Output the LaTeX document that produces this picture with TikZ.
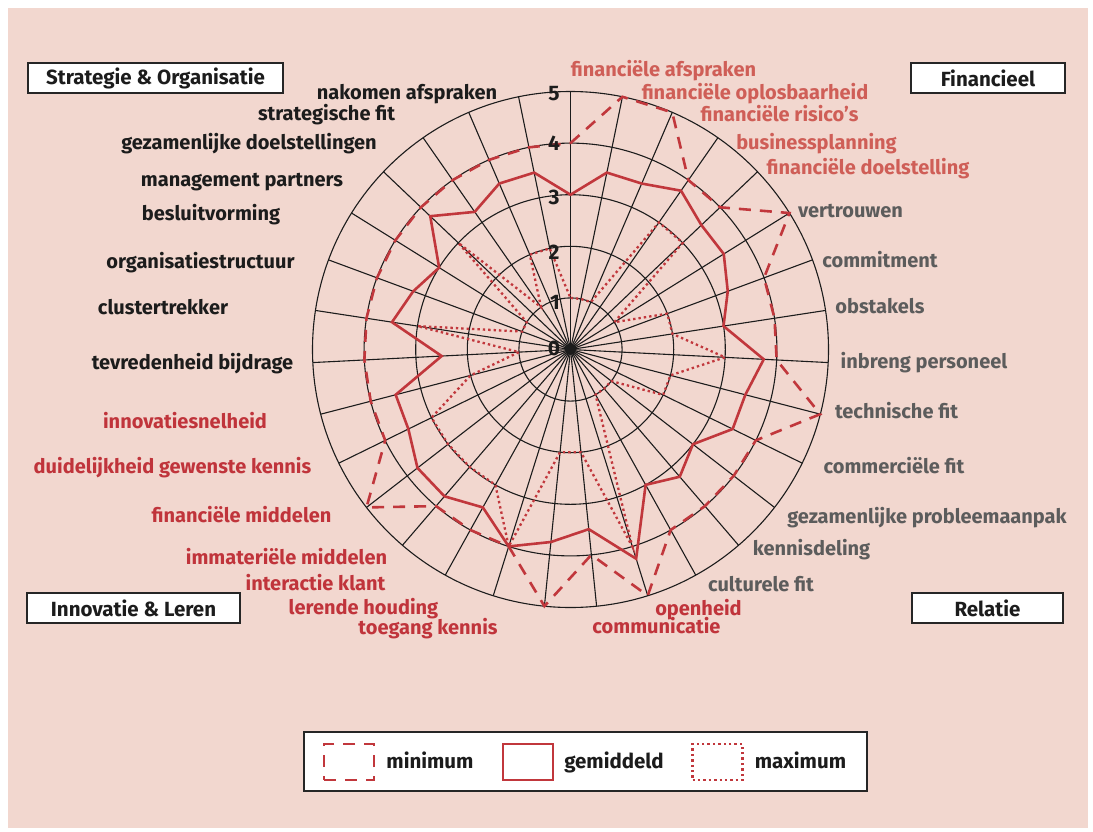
\documentclass[tikz,border=0pt]{standalone}
\usepackage{fontspec}
\setmainfont{Fira Sans}
\definecolor{bgpink}{HTML}{F2D7CF}
\definecolor{serred}{HTML}{C1373C}
\definecolor{lblred}{HTML}{C0343B}
\definecolor{lblcoral}{HTML}{CF5E57}
\definecolor{lblgray}{HTML}{5C5C5C}
\definecolor{lblblack}{HTML}{1C1C1C}
\begin{document}
\begin{tikzpicture}[x=1pt,y=-1pt,
  lbl/.style={font=\bfseries\fontsize{20}{22}\selectfont, anchor=mid, inner sep=0pt, yshift=-4.5pt},
  blk/.style={lbl, text=lblblack},
  rdl/.style={lbl, text=lblred},
  crl/.style={lbl, text=lblcoral},
  gry/.style={lbl, text=lblgray},
  numl/.style={font=\bfseries\fontsize{21}{23}\selectfont, text=lblblack, anchor=mid, inner sep=0pt, yshift=-4.5pt},
  gridline/.style={line width=1.1pt, draw=lblblack},
  sermin/.style={draw=serred, line width=2.6pt, dash pattern=on 12pt off 9pt},
  seravg/.style={draw=serred, line width=2.6pt, line join=miter},
  sermax/.style={draw=serred, line width=2.3pt, dash pattern=on 2.4pt off 3pt},
  titlebox/.style={draw=black!85, line width=1.4pt, fill=white, inner sep=0pt,
    minimum height=30pt, font=\bfseries\fontsize{20.5}{22}\selectfont, text=lblblack},
  legsq/.style={minimum width=50pt, minimum height=36pt, inner sep=0pt},
  legt/.style={font=\bfseries\fontsize{20.5}{22}\selectfont, text=lblblack, anchor=mid, inner sep=0pt, yshift=-4.5pt}
]
\useasboundingbox (0,0) rectangle (1093,831);
\fill[white] (0,0) rectangle (1093,831);
\fill[bgpink] (8,8) rectangle (1088,828);

\begin{scope}[shift={(570.5,349.5)}, x=1pt, y=1pt]
  \foreach \k in {1,...,5} \draw[gridline] (0,0) circle ({\k*51.6});
  \foreach \i in {0,...,30} \draw[gridline] (0,0) -- ({90-\i*360/31}:258);
  \fill[lblblack] (0,0) circle (5.5);
  % minimum (dashed)
  \draw[sermin] (90:{4*51.6})
    \foreach \r [count=\i] in {5,5,4,4,5,4,4,4,5,4,4,4,4,5,4,5,4,4,4,5,4,4,4,4,4,4,4,4,4,4}
    { -- ({90-\i*360/31}:{\r*51.6}) } -- cycle;
  % gemiddeld (solid)
  \draw[seravg] (90:{3*51.6})
    \foreach \r [count=\i] in {3.5,3.5,3.75,3.5,3.5,3.25,3,3.75,3.5,3.5,3,3.25,3,4.25,3.5,3.75,4,3.5,3.75,3.75,3.5,3.5,2.5,3.5,3.25,3,3.75,3.25,3.5,3.5}
    { -- ({90-\i*360/31}:{\r*51.6}) } -- cycle;
  % maximum (dotted)
  \draw[sermax] (90:{1*51.6})
    \foreach \r [count=\i] in {1,1,3,3,1,2,2,3,2,2,1,1,1,4,2,2,4,3,3,3,3,2,1,3,1,1,3,1,2,2}
    { -- ({90-\i*360/31}:{\r*51.6}) } -- cycle;
\end{scope}

% scale numbers
\node[numl] (n5) at (554,93) {5};
\node[numl] (n4) at (554,143) {4};
\node[numl] (n3) at (554,197) {3};
\node[numl] (n2) at (554,252) {2};
\node[numl] (n1) at (555,302) {1};
\node[numl] (n0) at (554,348) {0};

% Strategie & Organisatie labels
\node[blk] (l30) at (407,92) {nakomen afspraken};
\node[blk] (l29) at (326.5,113) {strategische fit};
\node[blk] (l28) at (249,142) {gezamenlijke doelstellingen};
\node[blk] (l27) at (242,179) {management partners};
\node[blk] (l26) at (211,213) {besluitvorming};
\node[blk] (l25) at (200.5,261) {organisatiestructuur};
\node[blk] (l24) at (163,307) {clustertrekker};
\node[blk] (l23) at (192.5,362) {tevredenheid bijdrage};

% Innovatie & Leren labels
\node[rdl] (l22) at (185,421) {innovatiesnelheid};
\node[rdl] (l21) at (172.5,466) {duidelijkheid gewenste kennis};
\node[rdl] (l20) at (241.5,515) {financiële middelen};
\node[rdl] (l19) at (286.5,557) {immateriële middelen};
\node[rdl] (l18) at (315.5,583) {interactie klant};
\node[rdl] (l17) at (363.5,607) {lerende houding};
\node[rdl] (l16) at (428,627) {toegang kennis};

% Financieel labels
\node[crl] (l0) at (663.5,69) {financiële afspraken};
\node[crl] (l1) at (755,92) {financiële oplosbaarheid};
\node[crl] (l2) at (779.5,114) {financiële risico's};
\node[crl] (l3) at (816.5,142) {businessplanning};
\node[crl] (l4) at (868,167) {financiële doelstelling};

% Relatie labels
\node[gry] (l5) at (850.5,210) {vertrouwen};
\node[gry] (l6) at (880,260) {commitment};
\node[gry] (l7) at (880,306) {obstakels};
\node[gry] (l8) at (924,361) {inbreng personeel};
\node[gry] (l9) at (896.5,411) {technische fit};
\node[gry] (l10) at (894,466) {commerciële fit};
\node[gry] (l11) at (927,516) {gezamenlijke probleemaanpak};
\node[gry] (l12) at (811.5,548) {kennisdeling};
\node[gry] (l13) at (761,584) {culturele fit};
\node[rdl] (l14) at (698.5,608) {openheid};
\node[rdl] (l15) at (656.5,626) {communicatie};

% quadrant title boxes
\node[titlebox, minimum width=255pt] (tso) at (155.5,78) {Strategie \& Organisatie};
\node[titlebox, minimum width=154pt] (tfi) at (988,78) {Financieel};
\node[titlebox, minimum width=213pt] (til) at (133.5,608) {Innovatie \& Leren};
\node[titlebox, minimum width=151pt] (tre) at (987.5,608) {Relatie};

% legend
\node[draw=black!85, line width=1.4pt, fill=white, minimum width=563pt, minimum height=59pt, inner sep=0pt] (legend) at (585.5,761.5) {};
\node[legsq, draw=serred, line width=2.6pt, dash pattern=on 12pt off 9pt] (lgmin) at (349,762) {};
\node[legsq, draw=serred, line width=2.6pt] (lgavg) at (528,762) {};
\node[legsq, draw=serred, line width=2.3pt, dash pattern=on 2.4pt off 3pt] (lgmax) at (717.5,762) {};
\node[legt] (tmin) at (430,761) {minimum};
\node[legt] (tavg) at (614,761) {gemiddeld};
\node[legt] (tmax) at (800.5,761) {maximum};
\end{tikzpicture}
\end{document}
